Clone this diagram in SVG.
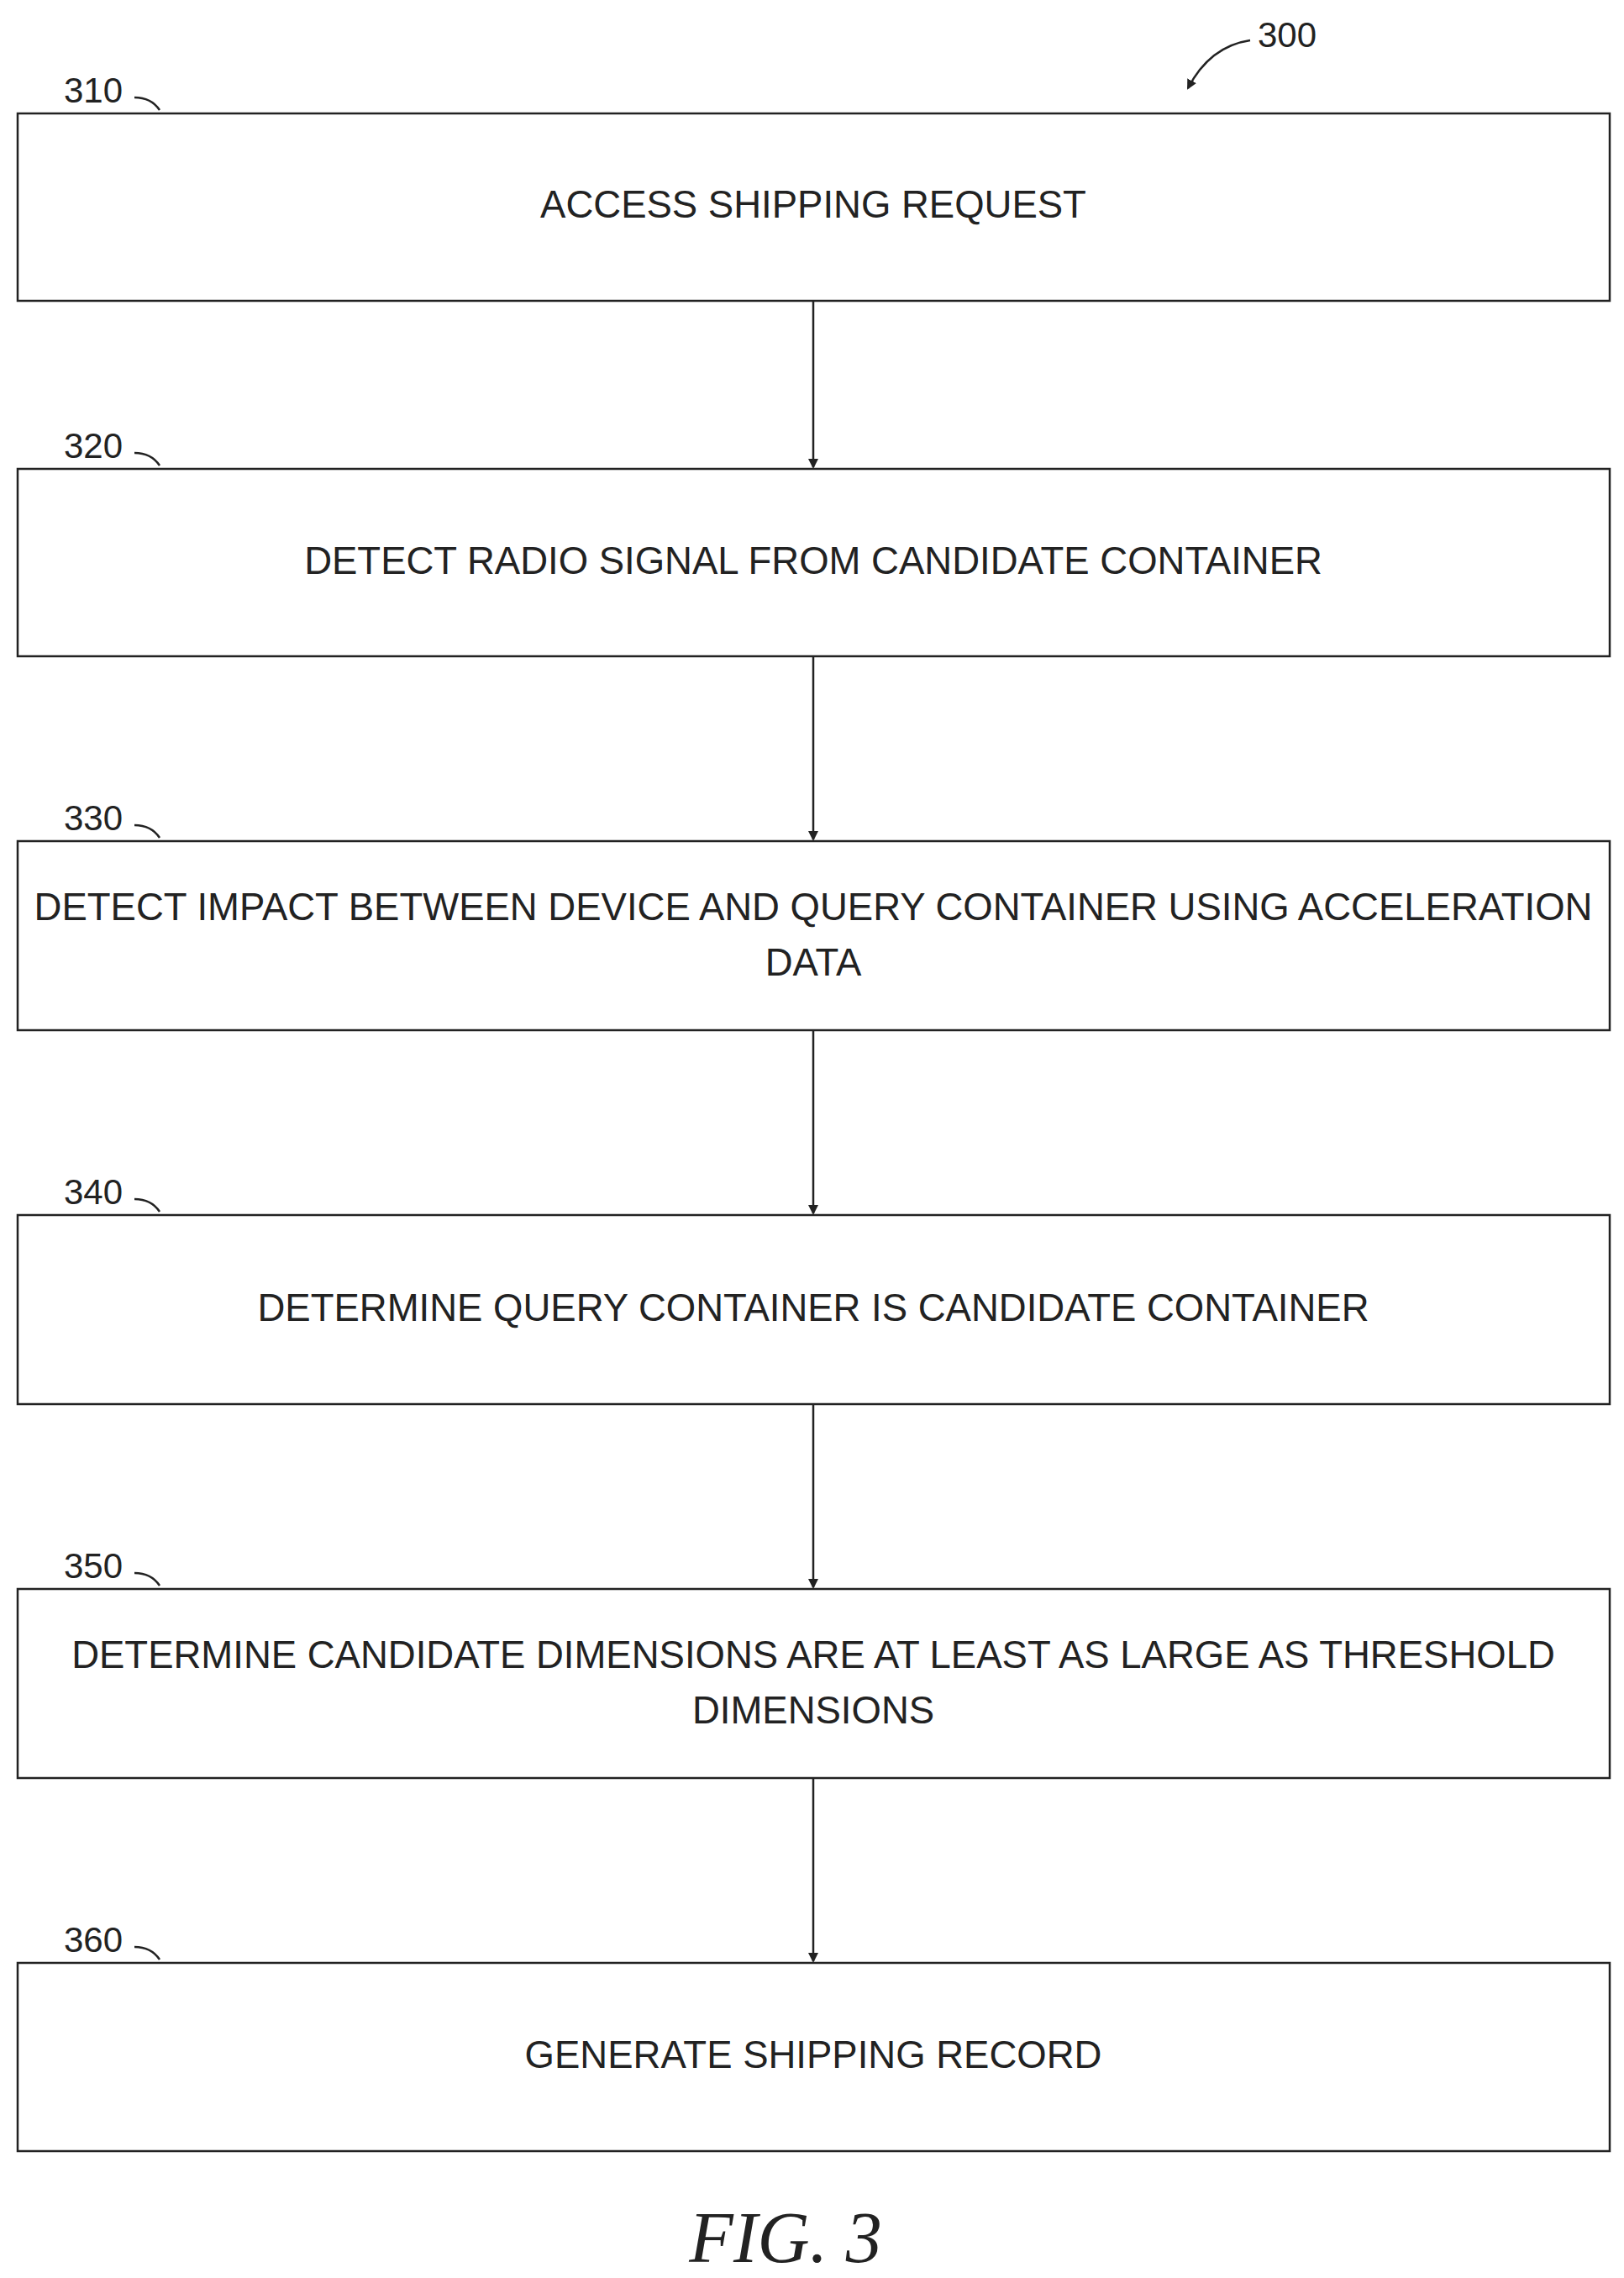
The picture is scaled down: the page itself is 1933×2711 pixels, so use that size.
<svg xmlns="http://www.w3.org/2000/svg" width="1933" height="2711" viewBox="0 0 1933 2711">
<style>
.box{fill:#fff;stroke:#222;stroke-width:2.5}
.t{font-family:"Liberation Sans",Arial,sans-serif;font-size:45.5px;fill:#222;text-anchor:middle}
.l{font-family:"Liberation Sans",Arial,sans-serif;font-size:42px;fill:#222}
.c{fill:none;stroke:#222;stroke-width:2.5}
</style>
<defs><marker id="a" markerWidth="12" markerHeight="12" refX="10" refY="6" orient="auto" markerUnits="userSpaceOnUse"><path d="M0,0 L12,6 L0,12 Z" fill="#222"/></marker></defs>
<rect width="1933" height="2711" fill="#fff"/>
<g id="n310"><rect class="box" x="21" y="135" width="1895" height="223"/><text class="t" x="968" y="259">ACCESS SHIPPING REQUEST</text><text class="l" x="76" y="122">310</text><path class="c" d="M160,116 Q180,116 190,131"/></g>
<g id="n320"><rect class="box" x="21" y="558" width="1895" height="223"/><text class="t" x="968" y="683">DETECT RADIO SIGNAL FROM CANDIDATE CONTAINER</text><text class="l" x="76" y="545">320</text><path class="c" d="M160,539 Q180,539 190,554"/></g>
<g id="n330"><rect class="box" x="21" y="1001" width="1895" height="225"/><text class="t" x="968" y="1095">DETECT IMPACT BETWEEN DEVICE AND QUERY CONTAINER USING ACCELERATION</text><text class="t" x="968" y="1161">DATA</text><text class="l" x="76" y="988">330</text><path class="c" d="M160,982 Q180,982 190,997"/></g>
<g id="n340"><rect class="box" x="21" y="1446" width="1895" height="225"/><text class="t" x="968" y="1572">DETERMINE QUERY CONTAINER IS CANDIDATE CONTAINER</text><text class="l" x="76" y="1433">340</text><path class="c" d="M160,1427 Q180,1427 190,1442"/></g>
<g id="n350"><rect class="box" x="21" y="1891" width="1895" height="225"/><text class="t" x="968" y="1985">DETERMINE CANDIDATE DIMENSIONS ARE AT LEAST AS LARGE AS THRESHOLD</text><text class="t" x="968" y="2051">DIMENSIONS</text><text class="l" x="76" y="1878">350</text><path class="c" d="M160,1872 Q180,1872 190,1887"/></g>
<g id="n360"><rect class="box" x="21" y="2336" width="1895" height="224"/><text class="t" x="968" y="2461">GENERATE SHIPPING RECORD</text><text class="l" x="76" y="2323">360</text><path class="c" d="M160,2317 Q180,2317 190,2332"/></g>
<g id="connectors">
<line class="c" x1="968" y1="358" x2="968" y2="556" marker-end="url(#a)"/>
<line class="c" x1="968" y1="781" x2="968" y2="999" marker-end="url(#a)"/>
<line class="c" x1="968" y1="1226" x2="968" y2="1444" marker-end="url(#a)"/>
<line class="c" x1="968" y1="1671" x2="968" y2="1889" marker-end="url(#a)"/>
<line class="c" x1="968" y1="2116" x2="968" y2="2334" marker-end="url(#a)"/>
</g>
<g id="ref300"><text class="l" x="1497" y="56">300</text><path class="c" d="M1488,48 Q1440,55 1414,105" marker-end="url(#a)"/></g>
<text x="935" y="2692" font-family="'Liberation Serif',serif" font-style="italic" font-size="86" fill="#222" text-anchor="middle">FIG. 3</text>
</svg>
